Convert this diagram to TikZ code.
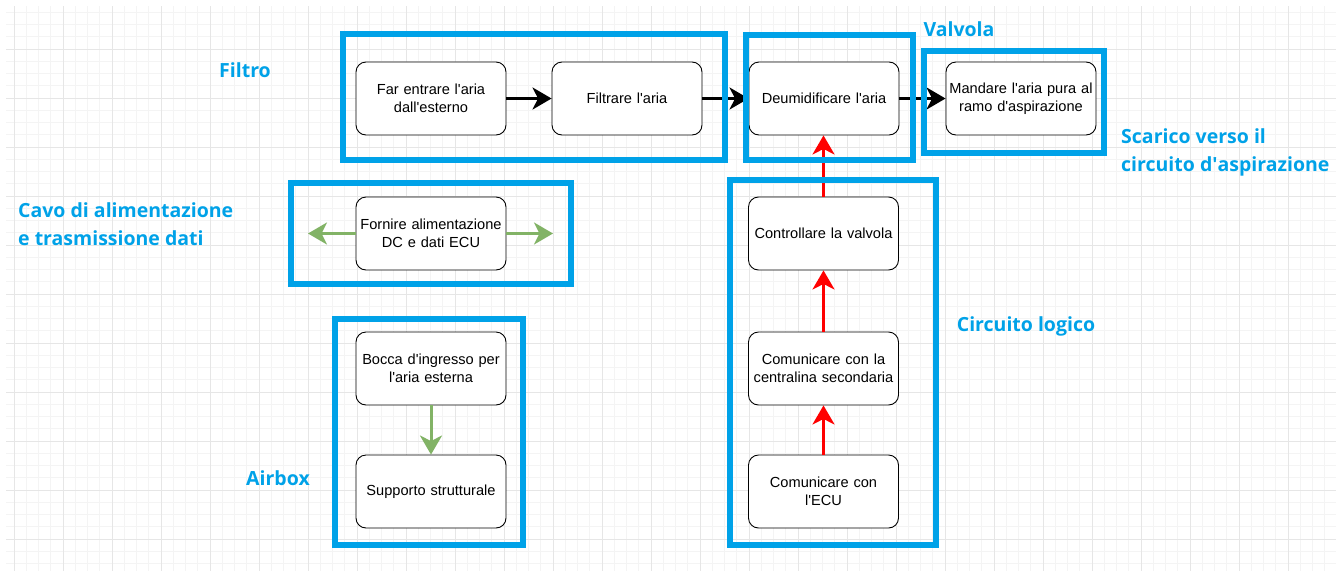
\documentclass[tikz,border=0pt]{standalone}
\usepackage{fontspec}
\setmainfont{Liberation Sans}
\newfontfamily\labelfont{Open Sans}
\usetikzlibrary{arrows.meta}

\definecolor{frameblue}{RGB}{0,162,232}
\definecolor{flowgreen}{RGB}{130,179,102}
\definecolor{gridmajor}{RGB}{230,230,230}
\definecolor{gridminor}{RGB}{244,244,244}

% straight apostrophe, as typed in the step boxes
\newcommand{\ap}{\textquotesingle}

\tikzset{
  stepbox/.style={draw=black, line width=0.9pt, fill=white, rounded corners=10pt,
    minimum width=148pt, minimum height=73pt, inner sep=2pt, align=center,
    text width=146pt, font=\fontsize{14.6}{17.5}\selectfont},
  frame/.style={draw=frameblue, line width=6pt},
  grouplabel/.style={text=frameblue, inner sep=0pt,
    font=\labelfont\bfseries\fontsize{19.5}{28}\selectfont},
  flowtip/.style={-{Stealth[length=19pt, width=22pt, inset=5.5pt]}},
  blackflow/.style={flowtip, draw=black, line width=3pt},
  redflow/.style={flowtip, draw=red, line width=3pt},
  greenflow/.style={flowtip, draw=flowgreen, line width=3pt},
  minorgrid/.style={draw=gridminor, line width=1pt},
  majorgrid/.style={draw=gridmajor, line width=1pt},
}

\begin{document}
\begin{tikzpicture}[x=1pt, y=-1pt]
\useasboundingbox (0,0) rectangle (1342,571);
\fill[white] (0,0) rectangle (1342,571);

% background grid
\foreach \i in {0,...,107} \draw[minorgrid] ({14+12.25*\i},6) -- ({14+12.25*\i},571);
\foreach \j in {1,...,46} \draw[minorgrid] (6,{12.25*\j}) -- (1336,{12.25*\j});
\foreach \i in {0,...,26} \draw[majorgrid] ({14+49*\i},6) -- ({14+49*\i},571);
\foreach \j in {1,...,11} \draw[majorgrid] (6,{49*\j}) -- (1336,{49*\j});

% process steps
\node[stepbox] (entrare) at (431,98.5) {Far entrare l\ap aria\\dall\ap esterno};
\node[stepbox] (filtrare) at (627,98.5) {Filtrare l\ap aria};
\node[stepbox] (deumid) at (824,98.5) {Deumidificare l\ap aria};
\node[stepbox] (mandare) at (1021,98.5) {Mandare l\ap aria pura al\\ramo d\ap aspirazione};
\node[stepbox] (fornire) at (431,233.5) {Fornire alimentazione\\DC e dati ECU};
\node[stepbox] (bocca) at (431,368.5) {Bocca d\ap ingresso per\\l\ap aria esterna};
\node[stepbox] (supporto) at (431,491.5) {Supporto strutturale};
\node[stepbox] (controllo) at (823.5,233.5) {Controllare la valvola};
\node[stepbox] (centralina) at (823.5,368.5) {Comunicare con la\\centralina secondaria};
\node[stepbox] (ecu) at (823.5,491.5) {Comunicare con\\l\ap ECU};

% free ends of the power/data arrows
\coordinate (cavoL) at (308,233.5);
\coordinate (cavoR) at (553,233.5);

% connectors
\draw[blackflow] (entrare) -- (filtrare);
\draw[blackflow] (filtrare) -- (deumid);
\draw[blackflow] (deumid) -- (mandare);
\draw[greenflow] (fornire.west) -- (cavoL);
\draw[greenflow] (fornire.east) -- (cavoR);
\draw[greenflow] (bocca) -- (supporto);
\draw[redflow] (ecu) -- (centralina);
\draw[redflow] (centralina) -- (controllo);
\draw[redflow] (controllo.north) -- (controllo.north |- deumid.south);

% subsystem frames
\draw[frame] (343,34) rectangle (724.5,160);
\draw[frame] (745.5,34.5) rectangle (912.5,159.5);
\draw[frame] (923.5,51) rectangle (1103.5,153);
\draw[frame] (290.5,182.5) rectangle (570.5,283.5);
\draw[frame] (729.5,180) rectangle (936,545);
\draw[frame] (334.5,318.5) rectangle (523,545);

% subsystem labels
\node[grouplabel] (lfiltro) at (245,70) {Filtro};
\node[grouplabel] (lvalvola) at (959,29) {Valvola};
\node[grouplabel, anchor=west, align=left] (lscarico) at (1121,152) {Scarico verso il\\circuito d\textquotesingle aspirazione};
\node[grouplabel, anchor=west, align=left] (lcavo) at (18,224) {Cavo di alimentazione\\e trasmissione dati};
\node[grouplabel] (lairbox) at (278,478) {Airbox};
\node[grouplabel] (lcircuito) at (1026,326) {Circuito logico};
\end{tikzpicture}
\end{document}
